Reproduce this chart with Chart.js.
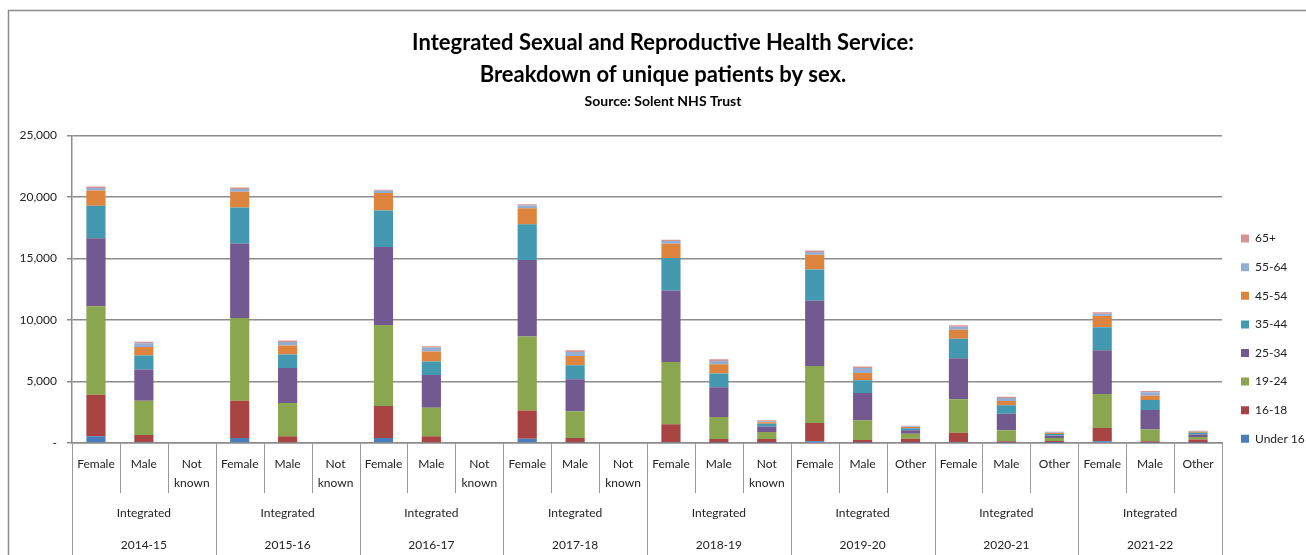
<!DOCTYPE html>
<html>
<head>
<meta charset="utf-8">
<script src="https://cdn.jsdelivr.net/npm/chart.js@4.4.1/dist/chart.umd.min.js"></script>
<style>
  body { margin: 0; background: #fff; }
  #grafico { display: block; }
</style>
</head>
<body>
<canvas id="grafico" width="1306" height="555"></canvas>
<script>
// Categories: sex within each year
const sexLabels = [
    "Female", "Male", ["Not", "known"],
    "Female", "Male", ["Not", "known"],
    "Female", "Male", ["Not", "known"],
    "Female", "Male", ["Not", "known"],
    "Female", "Male", ["Not", "known"],
    "Female", "Male", "Other",
    "Female", "Male", "Other",
    "Female", "Male", "Other"
];
const serviceLabel = "Integrated";
const years = ["2014-15", "2015-16", "2016-17", "2017-18", "2018-19", "2019-20", "2020-21", "2021-22"];

// Unique patients per age band (same order as sexLabels)
const under16   = [540, 80, 0, 410, 60, 0, 410, 60, 0, 350, 40, 0, 80, 30, 20, 140, 30, 20, 80, 20, 10, 140, 20, 15];
const age16_18  = [3380, 570, 0, 3030, 480, 0, 2600, 480, 0, 2300, 370, 0, 1440, 300, 300, 1490, 210, 330, 760, 120, 150, 1080, 120, 260];
const age19_24  = [7200, 2790, 0, 6710, 2710, 0, 6580, 2330, 0, 6010, 2170, 0, 5060, 1790, 570, 4630, 1600, 410, 2710, 890, 240, 2760, 950, 220];
const age25_34  = [5520, 2540, 0, 6060, 2840, 0, 6330, 2650, 0, 6220, 2600, 0, 5820, 2410, 460, 5300, 2220, 270, 3330, 1350, 190, 3550, 1600, 190];
const age35_44  = [2650, 1140, 0, 2920, 1110, 0, 2980, 1110, 0, 2900, 1140, 0, 2630, 1110, 220, 2540, 1030, 160, 1600, 680, 140, 1870, 810, 140];
const age45_54  = [1240, 680, 0, 1300, 730, 0, 1410, 810, 0, 1300, 760, 0, 1160, 760, 110, 1190, 600, 110, 730, 350, 80, 920, 350, 80];
const age55_64  = [190, 300, 0, 220, 270, 0, 190, 320, 0, 220, 320, 0, 220, 270, 80, 240, 410, 50, 240, 240, 50, 190, 270, 50];
const age65plus = [135, 135, 0, 110, 135, 0, 80, 110, 0, 110, 135, 0, 110, 135, 80, 110, 110, 50, 110, 110, 50, 110, 110, 50];

const FONTE = "Lato, 'Open Sans', sans-serif";
const CINZA = '#8c8c8c';

const series = [
    { label: "Under 16", data: under16,   color: "#4a7ebb" },
    { label: "16-18",    data: age16_18,  color: "#a84543" },
    { label: "19-24",    data: age19_24,  color: "#8aa64f" },
    { label: "25-34",    data: age25_34,  color: "#72598f" },
    { label: "35-44",    data: age35_44,  color: "#4399b0" },
    { label: "45-54",    data: age45_54,  color: "#dd843e" },
    { label: "55-64",    data: age55_64,  color: "#94aed3" },
    { label: "65+",      data: age65plus, color: "#d59391" }
];

// Outer frame + multi-level category axis (separators, service and year rows)
const eixoAgrupado = {
    id: 'eixoAgrupado',
    beforeDraw(chart) {
        const c = chart.ctx;
        c.save();
        c.strokeStyle = CINZA;
        c.lineWidth = 1.5;
        c.strokeRect(8.5, 10.5, 1400, 700);
        c.restore();
    },
    afterLayout(chart) {
        // move the legend down beside the lower half of the plot
        const lg = chart.legend;
        const h = lg.bottom - lg.top;
        lg.top = 216;
        lg.bottom = lg.top + h;
        lg.left += 2.4;
        lg.right += 2.4;
        // titles sit centred over the plot rather than the canvas
        chart.boxes.filter(b => b.position === 'top').forEach(b => {
            b.left += 10;
            b.right += 10;
        });
    },
    afterDraw(chart) {
        const c = chart.ctx;
        const x = chart.scales.x;
        const area = chart.chartArea;
        const n = sexLabels.length;
        const base = area.bottom;
        const fim = chart.height;

        const limite = i => {
            if (i <= 0) return area.left;
            if (i >= n) return area.right;
            return (x.getPixelForValue(i - 1) + x.getPixelForValue(i)) / 2;
        };

        c.save();
        c.strokeStyle = '#9a9a9a';
        c.lineWidth = 1;
        for (let i = 0; i <= n; i++) {
            const px = Math.round(limite(i)) + 0.5;
            const cheia = i % 3 === 0;
            c.beginPath();
            c.moveTo(px, base);
            c.lineTo(px, cheia ? fim : base + 50);
            c.stroke();
        }

        c.fillStyle = '#222';
        c.font = "12px " + FONTE;
        c.textAlign = 'center';
        c.textBaseline = 'middle';
        years.forEach((ano, k) => {
            const meio = (limite(k * 3) + limite(k * 3 + 3)) / 2;
            c.fillText(serviceLabel, meio, base + 70);
            c.fillText(ano, meio, base + 102);
        });
        c.restore();
    }
};

const ctx = document.getElementById('grafico').getContext('2d');

new Chart(ctx, {
    type: 'bar',
    data: {
        labels: sexLabels,
        datasets: series.map(s => ({
            label: s.label,
            data: s.data,
            backgroundColor: s.color,
            borderWidth: 0,
            categoryPercentage: 1,
            barPercentage: 0.4
        }))
    },
    options: {
        responsive: false,
        animation: false,
        layout: { padding: { right: 0 } },
        scales: {
            x: {
                stacked: true,
                grid: { display: false, drawTicks: false },
                border: { display: true, color: CINZA, width: 1.5 },
                ticks: {
                    autoSkip: false,
                    maxRotation: 0,
                    padding: 12,
                    color: '#222',
                    font: { family: FONTE, size: 12, lineHeight: 1.58 }
                },
                afterFit: s => { s.height = 112; }
            },
            y: {
                stacked: true,
                min: 0,
                max: 25000,
                ticks: {
                    stepSize: 5000,
                    padding: 10,
                    color: '#222',
                    font: { family: FONTE, size: 12 },
                    callback: v => v === 0 ? '-' : v.toLocaleString('en-GB')
                },
                grid: { color: CINZA, lineWidth: 1.5, tickLength: 5 },
                border: { display: true, color: CINZA, width: 1.5 },
                afterFit: s => { s.width = 72; }
            }
        },
        plugins: {
            title: {
                display: true,
                text: ["Integrated Sexual and Reproductive Health Service:", "Breakdown of unique patients by sex."],
                color: '#000',
                font: { family: FONTE, size: 22, weight: 'bold', lineHeight: 32 / 22 },
                padding: { top: 27, bottom: 0 }
            },
            subtitle: {
                display: true,
                text: "Source: Solent NHS Trust",
                color: '#000',
                font: { family: FONTE, size: 14, weight: 'bold', lineHeight: 1.2 },
                padding: { top: 1.6, bottom: 26 }
            },
            legend: {
                position: 'right',
                align: 'start',
                reverse: true,
                maxWidth: 84,
                labels: {
                    boxWidth: 8,
                    boxHeight: 8,
                    padding: 16.6,
                    color: '#222',
                    font: { family: FONTE, size: 12 }
                }
            },
            tooltip: { enabled: false }
        }
    },
    plugins: [eixoAgrupado]
});
</script>
</body>
</html>
